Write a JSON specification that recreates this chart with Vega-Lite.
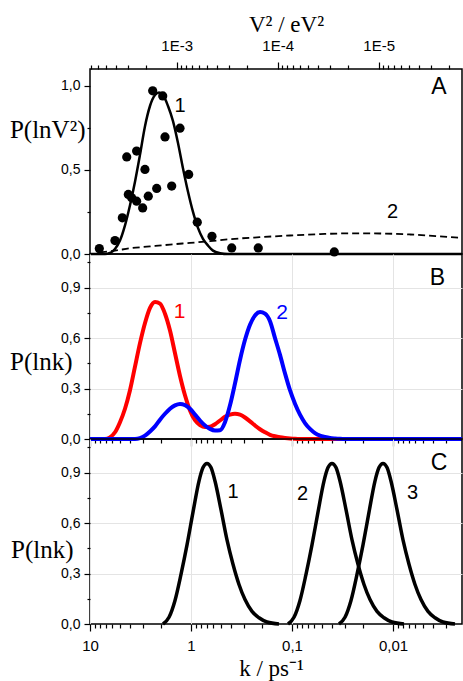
{
  "$schema": "https://vega.github.io/schema/vega-lite/v6.json",
  "padding": {"left": 8, "top": 12, "right": 0, "bottom": 0},
  "spacing": 0,
  "bounds": "flush",
  "config": {
    "view": {"stroke": "#000000", "strokeWidth": 1.5},
    "axis": {"domain": false, "grid": false, "tickColor": "#000000", "tickWidth": 1.2, "labelFont": "Liberation Sans", "labelFontSize": 14, "labelColor": "#000000", "titleFont": "Liberation Serif", "titleFontWeight": "normal", "titleColor": "#000000"}
  },
  "datasets": {
    "A_points": [
      {"V2": 0.00583, "P": 0.032}, {"V2": 0.00408, "P": 0.08}, {"V2": 0.00345, "P": 0.215}, {"V2": 0.00312, "P": 0.577},
      {"V2": 0.00249, "P": 0.612}, {"V2": 0.00301, "P": 0.354}, {"V2": 0.00279, "P": 0.334}, {"V2": 0.00249, "P": 0.314},
      {"V2": 0.00217, "P": 0.274}, {"V2": 0.00206, "P": 0.503}, {"V2": 0.00191, "P": 0.344}, {"V2": 0.001576, "P": 0.39},
      {"V2": 0.001727, "P": 0.97}, {"V2": 0.001374, "P": 0.94}, {"V2": 0.001304, "P": 0.696}, {"V2": 0.00112, "P": 0.404},
      {"V2": 0.000927, "P": 0.748}, {"V2": 0.00076, "P": 0.473}, {"V2": 0.000625, "P": 0.189}, {"V2": 0.000447, "P": 0.105},
      {"V2": 0.000285, "P": 0.036}, {"V2": 0.0001556, "P": 0.036}, {"V2": 0.0000275, "P": 0.012}
    ],
    "A_curve1": [
      {"V2": 0.00721, "P": 0}, {"V2": 0.00512, "P": 0}, {"V2": 0.00457, "P": 0.006}, {"V2": 0.00408, "P": 0.03},
      {"V2": 0.00364, "P": 0.08}, {"V2": 0.003247, "P": 0.17}, {"V2": 0.002897, "P": 0.29}, {"V2": 0.002585, "P": 0.43},
      {"V2": 0.002307, "P": 0.59}, {"V2": 0.002058, "P": 0.76}, {"V2": 0.001837, "P": 0.88}, {"V2": 0.001639, "P": 0.945},
      {"V2": 0.001495, "P": 0.96}, {"V2": 0.001365, "P": 0.945}, {"V2": 0.001218, "P": 0.88}, {"V2": 0.001087, "P": 0.79},
      {"V2": 0.00097, "P": 0.66}, {"V2": 0.000866, "P": 0.51}, {"V2": 0.000772, "P": 0.37}, {"V2": 0.000689, "P": 0.25},
      {"V2": 0.000615, "P": 0.155}, {"V2": 0.000549, "P": 0.09}, {"V2": 0.000489, "P": 0.05}, {"V2": 0.000437, "P": 0.02},
      {"V2": 0.000372, "P": 0.005}, {"V2": 0.00031, "P": 0}, {"V2": 0.000001496, "P": 0}
    ],
    "A_curve2": [
      {"V2": 0.00574, "P": 0.01}, {"V2": 0.00408, "P": 0.02}, {"V2": 0.002897, "P": 0.034}, {"V2": 0.001837, "P": 0.045},
      {"V2": 0.001164, "P": 0.056}, {"V2": 0.000738, "P": 0.066}, {"V2": 0.000468, "P": 0.076}, {"V2": 0.000296, "P": 0.088},
      {"V2": 0.00015, "P": 0.1}, {"V2": 0.0000755, "P": 0.11}, {"V2": 0.0000381, "P": 0.118}, {"V2": 0.0000192, "P": 0.123},
      {"V2": 0.0000097, "P": 0.122}, {"V2": 0.0000049, "P": 0.116}, {"V2": 0.00000247, "P": 0.105}, {"V2": 0.000001496, "P": 0.096}
    ],
    "A_labels": [
      {"V2": 0.000927, "P": 0.878, "label": "1"}, {"V2": 0.0000073, "P": 0.252, "label": "2"}
    ],
    "A_letter": [{"V2": 0.00000253, "P": 0.991, "label": "A"}],
    "B_curves": [
      {"k": 10, "P": 0, "curve": "1"}, {"k": 7.104, "P": 0, "curve": "1"}, {"k": 6.339, "P": 0.01, "curve": "1"}, {"k": 5.656, "P": 0.04, "curve": "1"},
      {"k": 5.047, "P": 0.1, "curve": "1"}, {"k": 4.503, "P": 0.18, "curve": "1"}, {"k": 4.018, "P": 0.29, "curve": "1"}, {"k": 3.585, "P": 0.43, "curve": "1"},
      {"k": 3.199, "P": 0.57, "curve": "1"}, {"k": 2.853, "P": 0.69, "curve": "1"}, {"k": 2.546, "P": 0.78, "curve": "1"}, {"k": 2.272, "P": 0.815, "curve": "1"},
      {"k": 2.027, "P": 0.805, "curve": "1"}, {"k": 1.809, "P": 0.745, "curve": "1"}, {"k": 1.614, "P": 0.645, "curve": "1"}, {"k": 1.44, "P": 0.51, "curve": "1"},
      {"k": 1.285, "P": 0.375, "curve": "1"}, {"k": 1.147, "P": 0.26, "curve": "1"}, {"k": 1.023, "P": 0.17, "curve": "1"}, {"k": 0.9129, "P": 0.112, "curve": "1"},
      {"k": 0.8145, "P": 0.083, "curve": "1"}, {"k": 0.7267, "P": 0.071, "curve": "1"}, {"k": 0.6485, "P": 0.073, "curve": "1"}, {"k": 0.5787, "P": 0.088, "curve": "1"},
      {"k": 0.5163, "P": 0.11, "curve": "1"}, {"k": 0.4607, "P": 0.132, "curve": "1"}, {"k": 0.4111, "P": 0.145, "curve": "1"}, {"k": 0.3668, "P": 0.15, "curve": "1"},
      {"k": 0.3273, "P": 0.145, "curve": "1"}, {"k": 0.2919, "P": 0.128, "curve": "1"}, {"k": 0.2605, "P": 0.105, "curve": "1"}, {"k": 0.2324, "P": 0.08, "curve": "1"},
      {"k": 0.2074, "P": 0.058, "curve": "1"}, {"k": 0.185, "P": 0.04, "curve": "1"}, {"k": 0.1651, "P": 0.025, "curve": "1"}, {"k": 0.1473, "P": 0.016, "curve": "1"},
      {"k": 0.1314, "P": 0.01, "curve": "1"}, {"k": 0.1173, "P": 0.006, "curve": "1"}, {"k": 0.1047, "P": 0.003, "curve": "1"}, {"k": 0.0934, "P": 0.001, "curve": "1"},
      {"k": 0.08333, "P": 0, "curve": "1"}, {"k": 0.002074, "P": 0, "curve": "1"},
      {"k": 10, "P": 0, "curve": "2"}, {"k": 3.585, "P": 0, "curve": "2"}, {"k": 3.199, "P": 0.005, "curve": "2"}, {"k": 2.853, "P": 0.02, "curve": "2"},
      {"k": 2.546, "P": 0.045, "curve": "2"}, {"k": 2.272, "P": 0.075, "curve": "2"}, {"k": 2.027, "P": 0.115, "curve": "2"}, {"k": 1.809, "P": 0.15, "curve": "2"},
      {"k": 1.614, "P": 0.18, "curve": "2"}, {"k": 1.44, "P": 0.2, "curve": "2"}, {"k": 1.285, "P": 0.208, "curve": "2"}, {"k": 1.147, "P": 0.202, "curve": "2"},
      {"k": 1.023, "P": 0.18, "curve": "2"}, {"k": 0.9129, "P": 0.145, "curve": "2"}, {"k": 0.8145, "P": 0.11, "curve": "2"}, {"k": 0.7267, "P": 0.08, "curve": "2"},
      {"k": 0.6485, "P": 0.06, "curve": "2"}, {"k": 0.5787, "P": 0.05, "curve": "2"}, {"k": 0.5163, "P": 0.052, "curve": "2"}, {"k": 0.4607, "P": 0.1, "curve": "2"},
      {"k": 0.4111, "P": 0.2, "curve": "2"}, {"k": 0.3668, "P": 0.33, "curve": "2"}, {"k": 0.3273, "P": 0.47, "curve": "2"}, {"k": 0.2919, "P": 0.59, "curve": "2"},
      {"k": 0.2605, "P": 0.68, "curve": "2"}, {"k": 0.2324, "P": 0.735, "curve": "2"}, {"k": 0.2074, "P": 0.755, "curve": "2"}, {"k": 0.185, "P": 0.745, "curve": "2"},
      {"k": 0.1651, "P": 0.7, "curve": "2"}, {"k": 0.1473, "P": 0.6, "curve": "2"}, {"k": 0.1314, "P": 0.5, "curve": "2"}, {"k": 0.1173, "P": 0.39, "curve": "2"},
      {"k": 0.1047, "P": 0.29, "curve": "2"}, {"k": 0.0934, "P": 0.21, "curve": "2"}, {"k": 0.08333, "P": 0.145, "curve": "2"}, {"k": 0.07436, "P": 0.095, "curve": "2"},
      {"k": 0.06634, "P": 0.06, "curve": "2"}, {"k": 0.0592, "P": 0.035, "curve": "2"}, {"k": 0.05283, "P": 0.02, "curve": "2"}, {"k": 0.04713, "P": 0.012, "curve": "2"},
      {"k": 0.04206, "P": 0.006, "curve": "2"}, {"k": 0.03752, "P": 0.003, "curve": "2"}, {"k": 0.03348, "P": 0.001, "curve": "2"}, {"k": 0.02987, "P": 0, "curve": "2"},
      {"k": 0.002074, "P": 0, "curve": "2"}
    ],
    "B_labels": [
      {"k": 1.3, "P": 0.756, "label": "1", "curve": "1"}, {"k": 0.1256, "P": 0.747, "label": "2", "curve": "2"}
    ],
    "B_letter": [{"k": 0.003625, "P": 0.96, "label": "B"}],
    "C_curves": [
      {"k": 1.893, "P": 0, "curve": "1"}, {"k": 1.651, "P": 0.04, "curve": "1"}, {"k": 1.44, "P": 0.14, "curve": "1"}, {"k": 1.256, "P": 0.295, "curve": "1"},
      {"k": 1.095, "P": 0.47, "curve": "1"}, {"k": 0.9554, "P": 0.665, "curve": "1"}, {"k": 0.8333, "P": 0.85, "curve": "1"}, {"k": 0.7606, "P": 0.93, "curve": "1"},
      {"k": 0.6944, "P": 0.955, "curve": "1"}, {"k": 0.6339, "P": 0.93, "curve": "1"}, {"k": 0.5787, "P": 0.85, "curve": "1"}, {"k": 0.5047, "P": 0.68, "curve": "1"},
      {"k": 0.4401, "P": 0.5, "curve": "1"}, {"k": 0.3839, "P": 0.355, "curve": "1"}, {"k": 0.3348, "P": 0.235, "curve": "1"}, {"k": 0.2919, "P": 0.145, "curve": "1"},
      {"k": 0.2489, "P": 0.075, "curve": "1"}, {"k": 0.2122, "P": 0.037, "curve": "1"}, {"k": 0.1768, "P": 0.012, "curve": "1"}, {"k": 0.1345, "P": 0, "curve": "1"},
      {"k": 0.1095, "P": 0, "curve": "2"}, {"k": 0.09554, "P": 0.04, "curve": "2"}, {"k": 0.08333, "P": 0.14, "curve": "2"}, {"k": 0.07267, "P": 0.295, "curve": "2"},
      {"k": 0.06339, "P": 0.47, "curve": "2"}, {"k": 0.05528, "P": 0.665, "curve": "2"}, {"k": 0.04822, "P": 0.85, "curve": "2"}, {"k": 0.04401, "P": 0.93, "curve": "2"},
      {"k": 0.04018, "P": 0.955, "curve": "2"}, {"k": 0.03667, "P": 0.93, "curve": "2"}, {"k": 0.03348, "P": 0.85, "curve": "2"}, {"k": 0.02919, "P": 0.68, "curve": "2"},
      {"k": 0.02546, "P": 0.5, "curve": "2"}, {"k": 0.02221, "P": 0.355, "curve": "2"}, {"k": 0.01937, "P": 0.235, "curve": "2"}, {"k": 0.01689, "P": 0.145, "curve": "2"},
      {"k": 0.0144, "P": 0.075, "curve": "2"}, {"k": 0.01228, "P": 0.037, "curve": "2"}, {"k": 0.01023, "P": 0.012, "curve": "2"}, {"k": 0.00778, "P": 0, "curve": "2"},
      {"k": 0.03425, "P": 0, "curve": "3"}, {"k": 0.02987, "P": 0.04, "curve": "3"}, {"k": 0.02605, "P": 0.14, "curve": "3"}, {"k": 0.02272, "P": 0.295, "curve": "3"},
      {"k": 0.01981, "P": 0.47, "curve": "3"}, {"k": 0.01728, "P": 0.665, "curve": "3"}, {"k": 0.01508, "P": 0.85, "curve": "3"}, {"k": 0.01376, "P": 0.93, "curve": "3"},
      {"k": 0.01256, "P": 0.955, "curve": "3"}, {"k": 0.01146, "P": 0.93, "curve": "3"}, {"k": 0.01047, "P": 0.85, "curve": "3"}, {"k": 0.009129, "P": 0.68, "curve": "3"},
      {"k": 0.007962, "P": 0.5, "curve": "3"}, {"k": 0.006944, "P": 0.355, "curve": "3"}, {"k": 0.006057, "P": 0.235, "curve": "3"}, {"k": 0.005283, "P": 0.145, "curve": "3"},
      {"k": 0.004503, "P": 0.075, "curve": "3"}, {"k": 0.003839, "P": 0.037, "curve": "3"}, {"k": 0.003199, "P": 0.012, "curve": "3"}, {"k": 0.002433, "P": 0, "curve": "3"}
    ],
    "C_labels": [
      {"k": 0.3839, "P": 0.787, "label": "1"}, {"k": 0.0787, "P": 0.773, "label": "2"}, {"k": 0.006412, "P": 0.781, "label": "3"}
    ],
    "C_letter": [{"k": 0.003504, "P": 0.956, "label": "C"}]
  },
  "vconcat": [
    {
      "width": 372,
      "height": 185,
      "encoding": {
        "x": {
          "field": "V2", "type": "quantitative",
          "scale": {"type": "log", "domain": [0.000001496, 0.00721], "reverse": true, "nice": false},
          "axis": {
            "orient": "top",
            "values": [0.007, 0.006, 0.005, 0.004, 0.003, 0.002, 0.001, 0.0009, 0.0008, 0.0007, 0.0006, 0.0005, 0.0004, 0.0003, 0.0002, 0.0001, 0.00009, 0.00008, 0.00007, 0.00006, 0.00005, 0.00004, 0.00003, 0.00002, 0.00001, 0.000009, 0.000008, 0.000007, 0.000006, 0.000005, 0.000004, 0.000003, 0.000002],
            "labelExpr": "abs(log(datum.value)/LN10 - round(log(datum.value)/LN10)) < 0.001 ? '1E' + round(log(datum.value)/LN10) : ''",
            "tickSize": {"condition": {"test": "abs(log(datum.value)/LN10 - round(log(datum.value)/LN10)) < 0.001", "value": 7}, "value": 4},
            "labelPadding": 9,
            "labelFontSize": 15,
            "labelFlush": false,
            "title": "V² / eV²",
            "titleFontSize": 23,
            "titleX": 196,
            "titleY": -38,
            "titleBaseline": "alphabetic",
            "titleAlign": "center"
          }
        },
        "y": {
          "field": "P", "type": "quantitative",
          "scale": {"domain": [0, 1.1], "nice": false},
          "axis": {
            "values": [0, 0.25, 0.5, 0.75, 1.0],
            "labelExpr": "abs(datum.value*2 - round(datum.value*2)) < 0.01 ? replace(format(datum.value, '.1f'), '.', ',') : ''",
            "tickSize": {"condition": {"test": "abs(datum.value*2 - round(datum.value*2)) < 0.01", "value": 6}, "value": 3},
            "labelPadding": 4,
            "title": "P(lnV²)",
            "titleFontSize": 25,
            "titleAngle": 0,
            "titleAlign": "right",
            "titleBaseline": "middle",
            "titleX": -5,
            "titleY": 60
          }
        }
      },
      "layer": [
        {"data": {"name": "A_curve2"}, "mark": {"type": "line", "color": "#000000", "strokeWidth": 1.8, "strokeDash": [7, 4], "interpolate": "monotone"}},
        {"data": {"name": "A_curve1"}, "mark": {"type": "line", "color": "#000000", "strokeWidth": 2.5, "interpolate": "monotone"}},
        {"data": {"name": "A_points"}, "mark": {"type": "circle", "color": "#000000", "size": 85, "opacity": 1}},
        {"data": {"name": "A_labels"}, "mark": {"type": "text", "font": "Liberation Sans", "fontSize": 20, "color": "#000000"}, "encoding": {"text": {"field": "label"}}},
        {"data": {"name": "A_letter"}, "mark": {"type": "text", "font": "Liberation Sans", "fontSize": 23, "color": "#000000"}, "encoding": {"text": {"field": "label"}}}
      ]
    },
    {
      "width": 372,
      "height": 185,
      "encoding": {
        "x": {
          "field": "k", "type": "quantitative",
          "scale": {"type": "log", "domain": [0.002074, 10], "reverse": true, "nice": false},
          "axis": {
            "orient": "bottom",
            "values": [10, 9, 8, 7, 6, 5, 4, 3, 2, 1, 0.9, 0.8, 0.7, 0.6, 0.5, 0.4, 0.3, 0.2, 0.1, 0.09, 0.08, 0.07, 0.06, 0.05, 0.04, 0.03, 0.02, 0.01, 0.009, 0.008, 0.007, 0.006, 0.005, 0.004, 0.003],
            "labels": false,
            "title": null,
            "tickSize": {"condition": {"test": "abs(log(datum.value)/LN10 - round(log(datum.value)/LN10)) < 0.001", "value": 7}, "value": 4},
            "grid": true,
            "gridColor": "#e4e4e4",
            "gridOpacity": {"condition": {"test": "abs(log(datum.value)/LN10 - round(log(datum.value)/LN10)) < 0.001", "value": 1}, "value": 0}
          }
        },
        "y": {
          "field": "P", "type": "quantitative",
          "scale": {"domain": [0, 1.1], "nice": false},
          "axis": {
            "values": [0, 0.15, 0.3, 0.45, 0.6, 0.75, 0.9, 1.05],
            "labelExpr": "abs(datum.value/0.3 - round(datum.value/0.3)) < 0.01 ? replace(format(datum.value, '.1f'), '.', ',') : ''",
            "tickSize": {"condition": {"test": "abs(datum.value/0.3 - round(datum.value/0.3)) < 0.01", "value": 6}, "value": 3},
            "labelPadding": 4,
            "grid": true,
            "gridColor": "#e4e4e4",
            "gridOpacity": {"condition": {"test": "abs(datum.value/0.3 - round(datum.value/0.3)) < 0.01 && datum.value > 0", "value": 1}, "value": 0},
            "title": "P(lnk)",
            "titleFontSize": 25,
            "titleAngle": 0,
            "titleAlign": "right",
            "titleBaseline": "middle",
            "titleX": -18,
            "titleY": 107
          }
        }
      },
      "layer": [
        {"data": {"name": "B_curves"}, "mark": {"type": "line", "strokeWidth": 4, "interpolate": "monotone"},
         "encoding": {"color": {"field": "curve", "type": "nominal", "scale": {"domain": ["1", "2"], "range": ["#ff0000", "#0000ff"]}, "legend": null}}},
        {"data": {"name": "B_labels"}, "mark": {"type": "text", "font": "Liberation Sans", "fontSize": 21},
         "encoding": {"text": {"field": "label"}, "color": {"field": "curve", "type": "nominal", "scale": {"domain": ["1", "2"], "range": ["#ff0000", "#0000ff"]}, "legend": null}}},
        {"data": {"name": "B_letter"}, "mark": {"type": "text", "font": "Liberation Sans", "fontSize": 23, "color": "#000000"}, "encoding": {"text": {"field": "label"}}}
      ]
    },
    {
      "width": 372,
      "height": 185,
      "encoding": {
        "x": {
          "field": "k", "type": "quantitative",
          "scale": {"type": "log", "domain": [0.002074, 10], "reverse": true, "nice": false},
          "axis": {
            "orient": "bottom",
            "values": [10, 9, 8, 7, 6, 5, 4, 3, 2, 1, 0.9, 0.8, 0.7, 0.6, 0.5, 0.4, 0.3, 0.2, 0.1, 0.09, 0.08, 0.07, 0.06, 0.05, 0.04, 0.03, 0.02, 0.01, 0.009, 0.008, 0.007, 0.006, 0.005, 0.004, 0.003],
            "labelExpr": "abs(log(datum.value)/LN10 - round(log(datum.value)/LN10)) < 0.001 ? replace(format(datum.value, '~g'), '.', ',') : ''",
            "tickSize": {"condition": {"test": "abs(log(datum.value)/LN10 - round(log(datum.value)/LN10)) < 0.001", "value": 7}, "value": 4},
            "labelPadding": 7,
            "labelFontSize": 15,
            "labelFlush": false,
            "grid": true,
            "gridColor": "#e4e4e4",
            "gridOpacity": {"condition": {"test": "abs(log(datum.value)/LN10 - round(log(datum.value)/LN10)) < 0.001", "value": 1}, "value": 0},
            "title": "k / ps⁻¹",
            "titleFontSize": 23,
            "titleX": 181,
            "titleY": 51,
            "titleBaseline": "alphabetic",
            "titleAlign": "center"
          }
        },
        "y": {
          "field": "P", "type": "quantitative",
          "scale": {"domain": [0, 1.1], "nice": false},
          "axis": {
            "values": [0, 0.15, 0.3, 0.45, 0.6, 0.75, 0.9, 1.05],
            "labelExpr": "abs(datum.value/0.3 - round(datum.value/0.3)) < 0.01 ? replace(format(datum.value, '.1f'), '.', ',') : ''",
            "tickSize": {"condition": {"test": "abs(datum.value/0.3 - round(datum.value/0.3)) < 0.01", "value": 6}, "value": 3},
            "labelPadding": 4,
            "grid": true,
            "gridColor": "#e4e4e4",
            "gridOpacity": {"condition": {"test": "abs(datum.value/0.3 - round(datum.value/0.3)) < 0.01 && datum.value > 0", "value": 1}, "value": 0},
            "title": "P(lnk)",
            "titleFontSize": 25,
            "titleAngle": 0,
            "titleAlign": "right",
            "titleBaseline": "middle",
            "titleX": -17,
            "titleY": 110
          }
        }
      },
      "layer": [
        {"data": {"name": "C_curves"}, "mark": {"type": "line", "strokeWidth": 3.5, "color": "#000000", "interpolate": "monotone"},
         "encoding": {"detail": {"field": "curve", "type": "nominal"}}},
        {"data": {"name": "C_labels"}, "mark": {"type": "text", "font": "Liberation Sans", "fontSize": 20, "color": "#000000"}, "encoding": {"text": {"field": "label"}}},
        {"data": {"name": "C_letter"}, "mark": {"type": "text", "font": "Liberation Sans", "fontSize": 23, "color": "#000000"}, "encoding": {"text": {"field": "label"}}}
      ]
    }
  ]
}
